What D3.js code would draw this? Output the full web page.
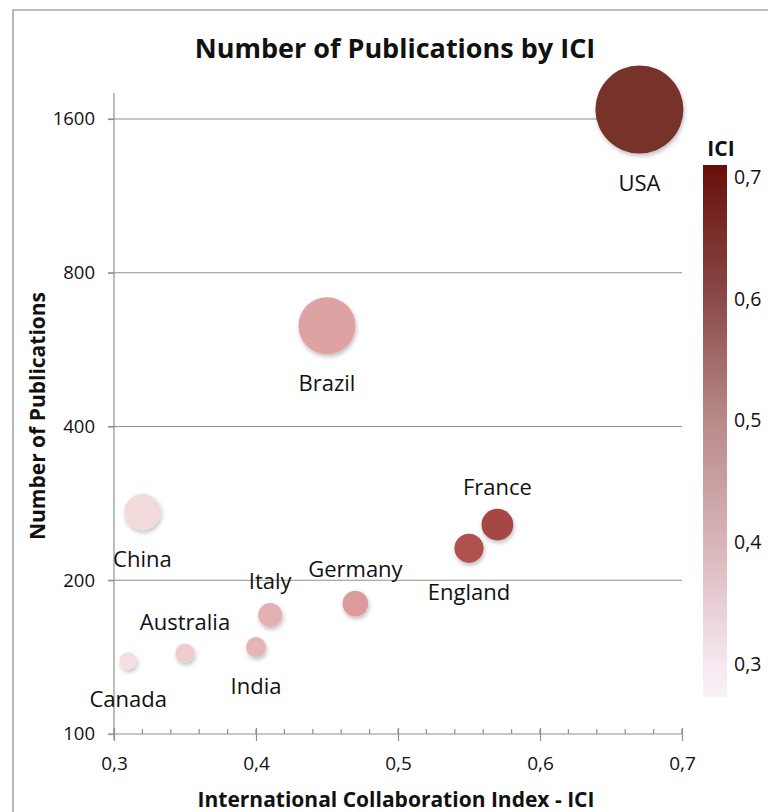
<!DOCTYPE html>
<html>
<head>
<meta charset="utf-8">
<script src="https://cdn.jsdelivr.net/npm/d3@7"></script>
<style>
  html, body { margin: 0; padding: 0; background: #fff; }
  svg { display: block; }
  text { font-family: "Open Sans", "DejaVu Sans", sans-serif; fill: #111; }
</style>
</head>
<body>
<svg id="chart" width="768" height="812"></svg>
<script>
// ---- data ----
const countries   = ["USA", "Brazil", "China", "France", "England", "Germany", "Italy", "India", "Australia", "Canada"];
const ici         = [0.67, 0.45, 0.32, 0.57, 0.55, 0.47, 0.41, 0.40, 0.35, 0.31];
const publications = [1670, 630, 272, 257, 231, 180, 171, 148, 144, 139];
const bubbleSize  = [100, 42, 17, 13, 11, 8.5, 7.5, 5.2, 4.7, 3.9];
const xTicks      = [0.3, 0.4, 0.5, 0.6, 0.7];
const yTicks      = [100, 200, 400, 800, 1600];
const legendTicks = [0.3, 0.4, 0.5, 0.6, 0.7];
const labelsBelow = ["USA", "Brazil", "China", "England", "India", "Canada"];

const svg = d3.select("#chart");
const W = 768, H = 812;
const m = { left: 114, right: 682, top: 119, bottom: 734 };

// frame (partial border of the original crop)
svg.append("path")
  .attr("d", `M13,${H} L13,10 L${W},10`)
  .attr("fill", "none").attr("stroke", "#a6a6a6").attr("stroke-width", 1.6);

// scales
const x = d3.scaleLinear().domain([0.3, 0.7]).range([m.left, m.right]);
const y = d3.scaleLog().base(2).domain([100, 1600]).range([m.bottom, m.top]);
const r = d3.scaleSqrt().domain([0, 100]).range([0, 44]);
const bubbleColor = d3.scaleLinear()
  .domain([0.30, 0.40, 0.47, 0.56, 0.68])
  .range(["#f6e4e5", "#e5b5b6", "#dc9a9a", "#a84846", "#722e2a"]);
const legendColor = d3.scaleLinear()
  .domain([0.273, 0.3, 0.4, 0.5, 0.6, 0.7, 0.71])
  .range(["#faf2f9", "#f5e8f0", "#d8b4b8", "#b98a8a", "#8b4a48", "#6c140e", "#660c08"]);

const fmt = v => d3.format(".1f")(v).replace(".", ",");
const gray = "#8f8f8f";

// defs: shadow + legend gradient
const defs = svg.append("defs");
const f = defs.append("filter").attr("id", "shadow")
  .attr("x", "-30%").attr("y", "-30%").attr("width", "160%").attr("height", "160%");
f.append("feDropShadow").attr("dx", 1).attr("dy", 2.5).attr("stdDeviation", 2)
  .attr("flood-color", "#000").attr("flood-opacity", 0.25);

// gridlines
svg.append("g").selectAll("line").data(yTicks.filter(t => t > 100)).join("line")
  .attr("x1", m.left - 6).attr("x2", m.right)
  .attr("y1", d => y(d)).attr("y2", d => y(d))
  .attr("stroke", gray).attr("stroke-width", 1.2);

// y axis
const yAxis = svg.append("g").attr("transform", `translate(${m.left},0)`)
  .call(d3.axisLeft(y).tickValues(yTicks).tickFormat(d3.format("d")).tickSize(6).tickPadding(13));
yAxis.select(".domain").remove();
yAxis.selectAll(".tick line").attr("stroke", gray).attr("stroke-width", 1.2);
yAxis.selectAll("text").style("font-size", "18.5px").attr("fill", "#111");
svg.append("line").attr("x1", m.left).attr("x2", m.left).attr("y1", 93).attr("y2", m.bottom + 6)
  .attr("stroke", gray).attr("stroke-width", 1.2);

// x axis
const xMinor = d3.range(0.3, 0.7001, 0.02).map(v => +v.toFixed(2));
svg.append("g").selectAll("line").data(xMinor).join("line")
  .attr("x1", d => x(d)).attr("x2", d => x(d))
  .attr("y1", m.bottom - 5).attr("y2", m.bottom)
  .attr("stroke", gray).attr("stroke-width", 1.2);
const xAxis = svg.append("g").attr("transform", `translate(0,${m.bottom})`)
  .call(d3.axisBottom(x).tickValues(xTicks).tickFormat(fmt).tickSizeInner(7).tickSizeOuter(0).tickPadding(16));
xAxis.select(".domain").attr("stroke", gray).attr("stroke-width", 1.2)
  .attr("d", `M${m.left - 6},0H${m.right}`);
xAxis.selectAll(".tick line").attr("stroke", gray).attr("stroke-width", 1.2).attr("y1", -6);
xAxis.selectAll("text").style("font-size", "19px").attr("fill", "#111");

// bubbles (largest first so smaller are on top)
const data = countries.map((c, i) => ({ c, ici: ici[i], pub: publications[i], s: bubbleSize[i] }))
  .sort((a, b) => b.s - a.s);
svg.append("g").selectAll("circle").data(data).join("circle")
  .attr("cx", d => x(d.ici)).attr("cy", d => y(d.pub)).attr("r", d => r(d.s))
  .attr("fill", d => bubbleColor(d.ici))
  .attr("filter", "url(#shadow)");

// labels
svg.append("g").selectAll("text").data(data).join("text")
  .attr("x", d => x(d.ici))
  .attr("y", d => labelsBelow.includes(d.c) ? y(d.pub) + r(d.s) + 28 : y(d.pub) - r(d.s) - 23)
  .attr("text-anchor", "middle").attr("dominant-baseline", "central")
  .style("font-size", "22px")
  .text(d => d.c);

// titles
svg.append("text").attr("x", 395).attr("y", 58).attr("text-anchor", "middle")
  .style("font-size", "27px").style("font-weight", "bold").text("Number of Publications by ICI");
svg.append("text").attr("x", 396).attr("y", 807).attr("text-anchor", "middle")
  .style("font-size", "21px").style("font-weight", "bold").text("International Collaboration Index - ICI");
svg.append("text").attr("transform", "translate(45,416) rotate(-90)").attr("text-anchor", "middle")
  .style("font-size", "21px").style("font-weight", "bold").text("Number of Publications");

// legend
const lg = { x: 703, w: 24, top: 165, bottom: 697 };
const ly = d3.scaleLinear().domain([0.273, 0.71]).range([lg.bottom, lg.top]);
const grad = defs.append("linearGradient").attr("id", "lgrad")
  .attr("x1", 0).attr("x2", 0).attr("y1", 1).attr("y2", 0);
legendColor.domain().forEach(v => {
  grad.append("stop").attr("offset", (v - 0.273) / (0.71 - 0.273)).attr("stop-color", legendColor(v));
});
svg.append("rect").attr("x", lg.x).attr("y", lg.top).attr("width", lg.w).attr("height", lg.bottom - lg.top)
  .attr("fill", "url(#lgrad)");
const lAxis = svg.append("g").attr("transform", `translate(${lg.x + lg.w},0)`)
  .call(d3.axisRight(ly).tickValues(legendTicks).tickFormat(fmt).tickSize(0).tickPadding(7));
lAxis.select(".domain").remove();
lAxis.selectAll("text").style("font-size", "19.5px").attr("fill", "#111");
svg.append("text").attr("x", 721).attr("y", 156).attr("text-anchor", "middle")
  .style("font-size", "21px").style("font-weight", "bold").text("ICI");
</script>
</body>
</html>
